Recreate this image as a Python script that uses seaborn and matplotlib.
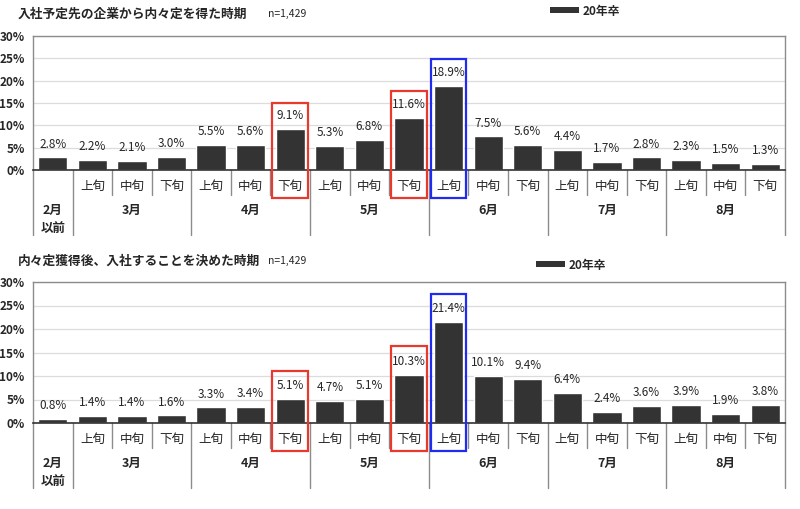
import matplotlib
matplotlib.use("Agg")
import matplotlib.pyplot as plt
import matplotlib.transforms as mtransforms
from matplotlib.patches import Rectangle, Patch
import pandas as pd
import seaborn as sns

# data
periods = ["2月以前",
           "3月上旬", "3月中旬", "3月下旬",
           "4月上旬", "4月中旬", "4月下旬",
           "5月上旬", "5月中旬", "5月下旬",
           "6月上旬", "6月中旬", "6月下旬",
           "7月上旬", "7月中旬", "7月下旬",
           "8月上旬", "8月中旬", "8月下旬"]
sub_labels = [""] + ["上旬", "中旬", "下旬"] * 6
month_labels = ["2月\n以前", "3月", "4月", "5月", "6月", "7月", "8月"]
month_sizes = [1, 3, 3, 3, 3, 3, 3]

offer_values = [2.8, 2.2, 2.1, 3.0, 5.5, 5.6, 9.1, 5.3, 6.8, 11.6,
                18.9, 7.5, 5.6, 4.4, 1.7, 2.8, 2.3, 1.5, 1.3]
decide_values = [0.8, 1.4, 1.4, 1.6, 3.3, 3.4, 5.1, 4.7, 5.1, 10.3,
                 21.4, 10.1, 9.4, 6.4, 2.4, 3.6, 3.9, 1.9, 3.8]

red_idx = [6, 9]
blue_idx = [10]
series_name = "20年卒"

BAR = "#333333"
RED = "#e8392f"
BLUE = "#1f2cf0"

sns.set_style("white")
plt.rcParams["font.family"] = ["Noto Sans CJK JP", "DejaVu Sans"]

W, H = 800, 509
fig = plt.figure(figsize=(W / 100, H / 100), dpi=100)
fig.patch.set_facecolor("white")


def px_axes(left, top, right, bottom):
    return fig.add_axes([left / W, 1 - bottom / H, (right - left) / W, (bottom - top) / H])


def draw_panel(ax, values, title, title_y, n_x, legend_xy):
    df = pd.DataFrame({"period": periods, "value": values})
    sns.barplot(data=df, x="period", y="value", order=periods, color=BAR,
                width=0.74, saturation=1, ax=ax)
    ax.set_xlim(-0.5, len(periods) - 0.5)
    ax.set_ylim(0, 30)
    ax.set_yticks(range(0, 31, 5))
    ax.set_yticklabels([f"{t}%" for t in range(0, 31, 5)], fontsize=8.5, fontweight="bold")
    ax.yaxis.grid(True, color="#dcdcdc", lw=0.9)
    ax.set_axisbelow(True)
    ax.tick_params(axis="both", length=0, pad=6)
    ax.set_xlabel("")
    ax.set_ylabel("")
    ax.set_xticks(range(len(periods)))
    ax.set_xticklabels(sub_labels, fontsize=9)
    ax.tick_params(axis="x", pad=7)
    for side in ["left", "top", "right"]:
        ax.spines[side].set_color("#8c8c8c")
        ax.spines[side].set_linewidth(1.0)
    ax.spines["bottom"].set_color("#333333")
    ax.spines["bottom"].set_linewidth(1.2)

    for c in ax.containers:
        ax.bar_label(c, labels=[f"{v:.1f}%" for v in values], padding=5, fontsize=8.5)

    # pixel offsets below the axis converted to axes fraction
    ax_h = ax.get_position().height * H

    def below(px):
        return -px / ax_h

    trans = mtransforms.blended_transform_factory(ax.transData, ax.transAxes)
    # separators
    bounds = [0]
    for s in month_sizes:
        bounds.append(bounds[-1] + s)
    for b in range(len(periods) + 1):
        yb = below(65) if b in bounds else below(25)
        ax.plot([b - 0.5, b - 0.5], [0, yb], color="#8c8c8c", lw=1.0,
                transform=trans, clip_on=False)
    # month labels
    for lab, s0, s1 in zip(month_labels, bounds[:-1], bounds[1:]):
        xc = (s0 + s1 - 1) / 2
        ax.text(xc, below(34), lab, transform=trans, ha="center", va="top",
                fontsize=9, fontweight="bold", linespacing=1.45)

    # highlight boxes
    for idxs, col in [(red_idx, RED), (blue_idx, BLUE)]:
        for i in idxs:
            ax_top = (values[i] + 6) / 30
            r = Rectangle((i - 0.45, below(28)), 0.9, ax_top - below(28),
                          transform=trans, fill=False, edgecolor=col, lw=1.6,
                          clip_on=False, zorder=5)
            ax.add_patch(r)

    fig.text(18 / W, 1 - title_y / H, title, fontsize=9.2, fontweight="bold",
             ha="left", va="center")
    fig.text(n_x / W, 1 - title_y / H, "n=1,429", fontsize=7.5, ha="left", va="center")

    handle = Patch(facecolor=BAR, edgecolor="none")
    fig.legend([handle], [series_name], loc="center", frameon=False,
               bbox_to_anchor=(legend_xy[0] / W, 1 - legend_xy[1] / H),
               handlelength=2.4, handleheight=0.45, handletextpad=0.3,
               prop={"weight": "bold", "size": 8.5})


ax1 = px_axes(33, 36, 785, 170)
draw_panel(ax1, offer_values, "入社予定先の企業から内々定を得た時期", 14, 268, (585, 11))

ax2 = px_axes(33, 282, 785, 423)
draw_panel(ax2, decide_values, "内々定獲得後、入社することを決めた時期", 261, 268, (571, 265))

fig.savefig("out.png", dpi=100, facecolor="white")
